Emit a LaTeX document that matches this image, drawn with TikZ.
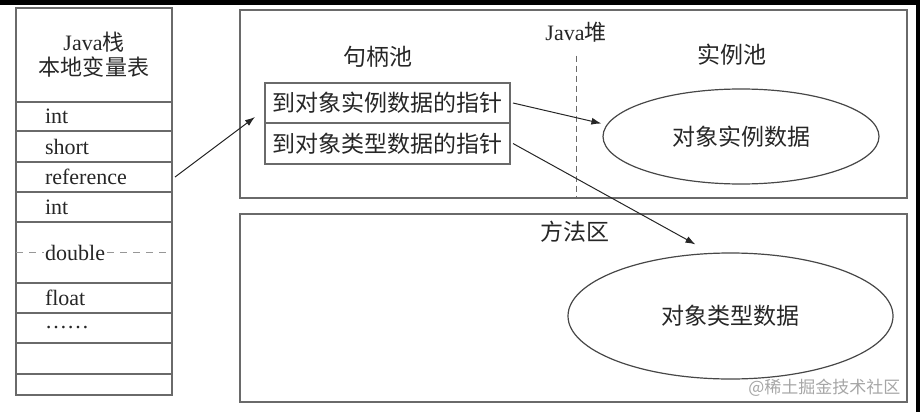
\documentclass[tikz,border=0pt]{standalone}
\usepackage{fontspec}
\setmainfont{Liberation Serif}
\newfontfamily\cjk{Noto Sans CJK SC}
\usetikzlibrary{positioning}
\usetikzlibrary{shapes.geometric}
\usetikzlibrary{arrows.meta}
\definecolor{linegray}{HTML}{6A6A6A}
\definecolor{inkgray}{HTML}{262626}
\newcommand{\figfont}{\fontsize{22}{25}\selectfont}
\newcommand{\zhfont}{\fontsize{23}{25}\selectfont\cjk}
\tikzstyle{cellnode} = [draw=linegray, line width=1.5pt, minimum width=156pt, minimum height=30pt, text width=98pt, inner xsep=0pt, inner ysep=0pt, outer sep=0pt, align=left, font=\figfont, text=inkgray]
\tikzstyle{areanode} = [draw=linegray, line width=2pt, minimum width=667pt, minimum height=188pt]
\tikzstyle{ptrnode} = [draw=linegray, line width=1.5pt, minimum width=245pt, minimum height=40pt, inner sep=0pt, outer sep=0pt, font=\zhfont, text=inkgray]
\tikzstyle{datanode} = [draw=inkgray!85, line width=1.2pt, ellipse, inner sep=0pt, font=\zhfont, text=inkgray]
\tikzstyle{titlenode} = [font=\figfont, text=inkgray]
\tikzstyle{arrowline} = [->, draw=inkgray, line width=1pt]

\begin{document}
\begin{tikzpicture}[x=1pt, y=-1pt, >={Latex[length=10pt,width=7pt]}]
  \useasboundingbox (0,0) rectangle (920,412);
  \fill[black] (0,0) rectangle (920,5);
  \fill[black] (916,0) rectangle (920,412);

  % Java stack
  \node[cellnode, align=center, text width=150pt, minimum height=94pt] (stack) at (94,55) {Java{\cjk 栈}\\{\cjk 本地变量表}};
  \node[cellnode, below=0pt of stack, minimum height=29pt] (s_int) {int};
  \node[cellnode, below=0pt of s_int, minimum height=31pt] (s_short) {short};
  \node[cellnode, below=0pt of s_short] (s_ref) {reference};
  \node[cellnode, below=0pt of s_ref] (s_int2) {int};
  \node[cellnode, below=0pt of s_int2, minimum height=61pt] (s_double) {};
  \draw[linegray!70, dashed, dash pattern=on 7pt off 6pt] (s_double.west) -- (s_double.east);
  \node[titlenode, fill=white, inner sep=1pt, right=28pt of s_double.west] (t_double) {double};
  \node[cellnode, below=0pt of s_double] (s_float) {float};
  \node[cellnode, below=0pt of s_float] (s_dots) {……};
  \node[cellnode, below=0pt of s_dots, minimum height=31pt] (s_e1) {};
  \node[cellnode, below=0pt of s_e1, minimum height=21pt] (s_e2) {};

  % Java heap
  \node[areanode] (heap) at (573.5,104) {};
  \node[titlenode] (heap_t) at (576,32) {Java{\cjk 堆}};
  \node[titlenode, font=\zhfont] (handle_t) at (378,57) {句柄池};
  \node[titlenode, font=\zhfont] (inst_t) at (732,55) {实例池};
  \draw[linegray, dashed, dash pattern=on 6pt off 4pt] ([yshift=-10pt]heap_t.south) -- (heap_t.south |- heap.south);
  \node[ptrnode] (h_inst) at (387.5,103) {到对象实例数据的指针};
  \node[ptrnode, below=0pt of h_inst, minimum height=41pt] (h_type) {到对象类型数据的指针};
  \node[datanode, minimum width=276pt, minimum height=95pt] (inst) at (741,136.5) {对象实例数据};

  % method area
  \node[areanode] (method) at (573.5,308) {};
  \node[titlenode, font=\zhfont] (method_t) at (575,232) {方法区};
  \node[datanode, minimum width=325pt, minimum height=126pt] (type) at (730.5,316) {对象类型数据};
  \node[font=\fontsize{17}{19}\selectfont\cjk, text=gray!70, anchor=east] (mark) at (904,388) {@稀土掘金技术社区};

  \draw[arrowline] ([xshift=3pt]s_ref.east) -- ([shift={(-10pt,6pt)}]h_inst.south west);
  \draw[arrowline] ([xshift=3pt]h_inst.east) -- ([shift={(-1pt,13pt)}]inst.west);
  \draw[arrowline] ([xshift=3pt]h_type.east) -- ([shift={(-35pt,8pt)}]type.north);
\end{tikzpicture}
\end{document}
